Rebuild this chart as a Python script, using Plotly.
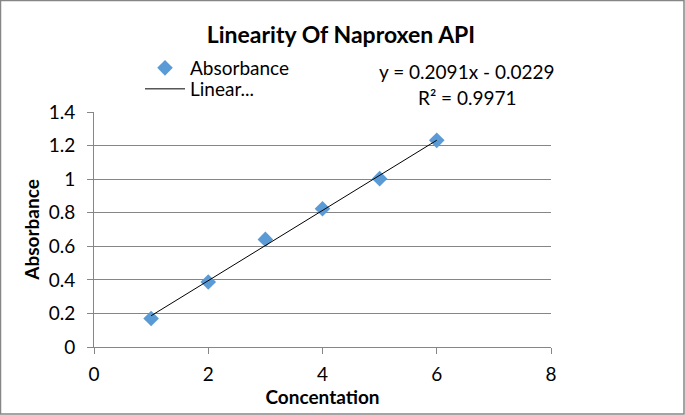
import plotly.graph_objects as go

# Concentration vs absorbance readings
concentration = [1, 2, 3, 4, 5, 6]
absorbance = [0.17, 0.387, 0.641, 0.824, 1.003, 1.231]

# Excel linear trendline
slope = 0.2091
intercept = -0.0229
r_squared = 0.9971

trend_x = [min(concentration), max(concentration)]
trend_y = [slope * x + intercept for x in trend_x]

FONT = "Lato, Calibri, sans-serif"
GRID = "#868686"

fig = go.Figure()

fig.add_trace(go.Scatter(
    x=concentration,
    y=absorbance,
    mode='markers',
    name='Absorbance',
    legend='legend',
    showlegend=True,
    marker=dict(symbol='diamond', size=12, color='#5B9BD5'),
))

fig.add_trace(go.Scatter(
    x=trend_x,
    y=trend_y,
    mode='lines',
    name='Linear...',
    legend='legend2',
    showlegend=True,
    line=dict(color='black', width=1),
))

# plot area is 94..551 px wide, 112..347 px tall
pw, ph = 457, 235
ml, mt = 94, 112


def px_x(px):
    return (px - ml) / pw


def px_y(py):
    return (mt + ph - py) / ph


fig.update_layout(
    width=685, height=415,
    showlegend=True,
    margin=dict(l=ml, r=685 - ml - pw, t=mt, b=415 - mt - ph),
    paper_bgcolor='white',
    plot_bgcolor='white',
    font=dict(family=FONT, size=19, color='black'),
    title=dict(
        text='<b>Linearity Of Naproxen API</b>',
        x=341 / 685, xanchor='center', xref='container',
        y=1 - 35 / 415, yanchor='middle', yref='container',
        font=dict(size=23),
    ),
    xaxis=dict(
        range=[0, 8], dtick=2, tick0=0,
        showgrid=False, zeroline=False,
        showline=True, linecolor=GRID, linewidth=1,
        ticks='outside', ticklen=6, tickcolor=GRID,
        ticklabelstandoff=4,
        title=dict(text='<b>Concentation</b>', font=dict(size=19), standoff=4),
    ),
    yaxis=dict(
        range=[0, 1.4], dtick=0.2, tick0=0,
        showgrid=True, gridcolor=GRID, gridwidth=1,
        zeroline=False,
        showline=True, linecolor=GRID, linewidth=1,
        ticks='outside', ticklen=6, tickcolor=GRID,
        ticklabelstandoff=8,
        tickformat='~g',
        title=dict(text='<b>Absorbance</b>', font=dict(size=19), standoff=4),
    ),
    legend=dict(
        x=px_x(140), xanchor='left',
        y=px_y(68), yanchor='middle',
        font=dict(size=19),
        itemwidth=40,
        bgcolor='rgba(0,0,0,0)',
    ),
    legend2=dict(
        x=px_x(140), xanchor='left',
        y=px_y(89), yanchor='middle',
        font=dict(size=19),
        itemwidth=40,
        bgcolor='rgba(0,0,0,0)',
    ),
    annotations=[
        dict(
            x=px_x(467), xref='paper', xanchor='center',
            y=px_y(71), yref='paper', yanchor='middle',
            text=f'y = {slope}x - {abs(intercept)}',
            showarrow=False, font=dict(size=19),
        ),
        dict(
            x=px_x(467), xref='paper', xanchor='center',
            y=px_y(97), yref='paper', yanchor='middle',
            text=f'R² = {r_squared}',
            showarrow=False, font=dict(size=19),
        ),
    ],
    shapes=[
        dict(
            type='rect', xref='paper', yref='paper',
            x0=px_x(0.5), x1=px_x(684),
            y0=px_y(414), y1=px_y(0.5),
            line=dict(color=GRID, width=1.5),
            fillcolor='rgba(0,0,0,0)', layer='below',
        ),
    ],
)

fig.write_html('out.html', config={'displayModeBar': False},
               post_script="document.body.style.margin='0';")
